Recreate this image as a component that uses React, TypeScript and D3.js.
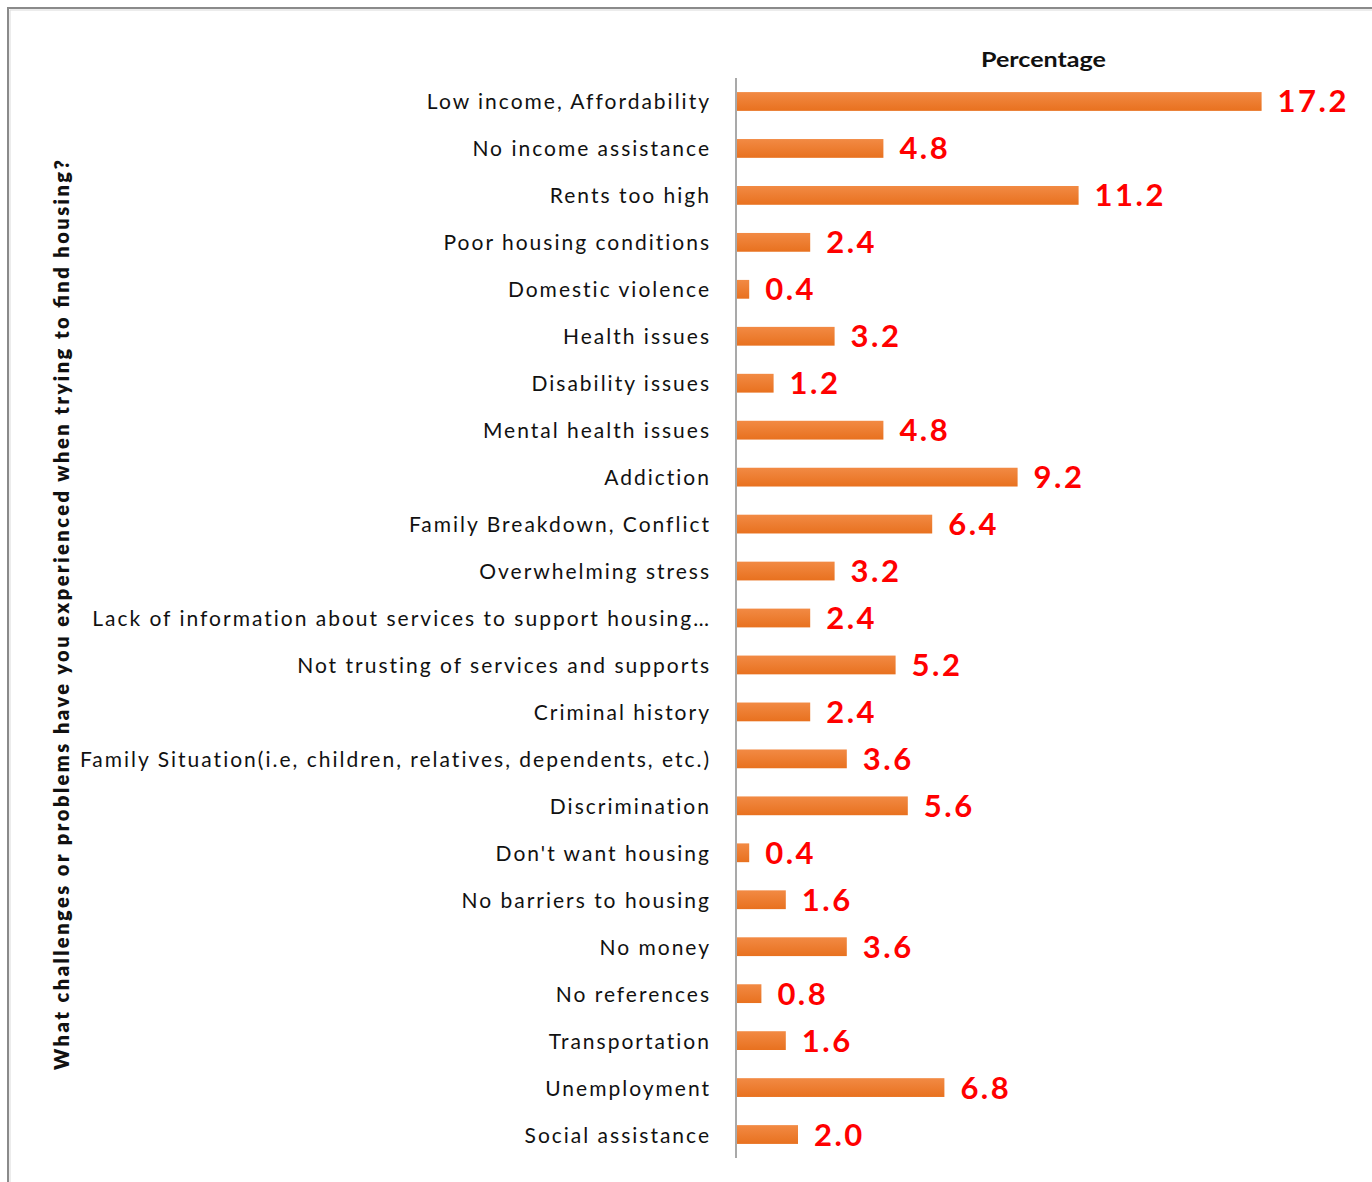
import React from "react";
import * as d3 from "d3";

const categories = [
  "Low income, Affordability",
  "No income assistance",
  "Rents too high",
  "Poor housing conditions",
  "Domestic violence",
  "Health issues",
  "Disability issues",
  "Mental health issues",
  "Addiction",
  "Family Breakdown, Conflict",
  "Overwhelming stress",
  "Lack of information about services to support housing…",
  "Not trusting of services and supports",
  "Criminal history",
  "Family Situation(i.e, children, relatives, dependents, etc.)",
  "Discrimination",
  "Don't want housing",
  "No barriers to housing",
  "No money",
  "No references",
  "Transportation",
  "Unemployment",
  "Social assistance",
];

const values = [17.2, 4.8, 11.2, 2.4, 0.4, 3.2, 1.2, 4.8, 9.2, 6.4, 3.2, 2.4, 5.2, 2.4, 3.6, 5.6, 0.4, 1.6, 3.6, 0.8, 1.6, 6.8, 2.0];

const seriesName = "Percentage";
const axisTitle = "What challenges  or problems have  you experienced when trying to find housing?";

export default function App() {
  const W = 1372;
  const H = 1182;
  const x0 = 737;
  const x = d3.scaleLinear().domain([0, 20]).range([x0, x0 + 610]);
  const y = d3.scaleBand<string>().domain(categories).range([78, 1158]).paddingInner(0.6).paddingOuter(0.3);
  const bw = y.bandwidth();
  const font = "Lato, 'Open Sans', sans-serif";
  return (
    <svg width={W} height={H} style={{ position: "absolute", left: 0, top: 0 }}>
      <defs>
        <linearGradient id="barGrad" x1="0" y1="0" x2="0" y2="1">
          <stop offset="0" stopColor="#f28a44" />
          <stop offset="1" stopColor="#e8711f" />
        </linearGradient>
      </defs>
      <rect x={0} y={0} width={W} height={H} fill="#fff" />
      <rect x={8} y={8} width={W + 20} height={H + 20} fill="none" stroke="#8a8a8a" strokeWidth={2} />
      <line x1={10} y1={10} x2={10} y2={H} stroke="#d9d9d9" strokeWidth={1} />
      <line x1={10} y1={10} x2={W} y2={10} stroke="#d9d9d9" strokeWidth={1} />
      <text
        x={981}
        y={67}
        fontFamily={font}
        fontSize={21}
        fontWeight={700}
        fill="#111"
        textLength={125}
        lengthAdjust="spacingAndGlyphs"
      >
        {seriesName}
      </text>
      <text
        transform={`translate(69, 1070) rotate(-90)`}
        fontFamily={font}
        fontSize={20}
        fontWeight={800}
        fill="#111"
        textLength={910}
        lengthAdjust="spacing"
      >
        {axisTitle}
      </text>
      {categories.map((c, i) => {
        const yc = (y(c) as number) + bw / 2;
        const v = values[i];
        return (
          <g key={c}>
            <text x={711} y={yc + 8} textAnchor="end" fontFamily={font} fontSize={21} letterSpacing={2} fill="#111">
              {c}
            </text>
            <rect x={x(0)} y={y(c)} width={x(v) - x(0)} height={bw} fill="url(#barGrad)" />
            <text x={x(v) + 16} y={yc + 11} fontFamily={font} fontSize={31} fontWeight={700} letterSpacing={2.5} fill="#ff0000">
              {v.toFixed(1)}
            </text>
          </g>
        );
      })}
      <line x1={736} y1={78} x2={736} y2={1158} stroke="#8c8c8c" strokeWidth={1.5} />
    </svg>
  );
}
